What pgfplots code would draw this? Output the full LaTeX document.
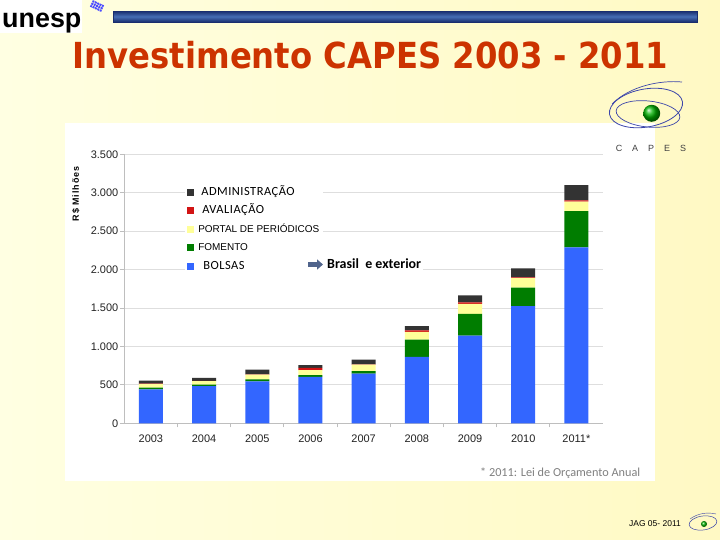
\documentclass[border=0pt]{standalone}
\usepackage{fontspec}
\setmainfont{Liberation Sans}
\newfontfamily\calibri{Carlito}
\newfontfamily\calibrisp{Carlito}[LetterSpace=4]
\newfontfamily\ylabfont{Liberation Sans}[LetterSpace=10]
\newfontfamily\titlefont{DejaVu Sans}[FakeStretch=0.9]
\usepackage{pgfplots}
\pgfplotsset{compat=1.18}
\usetikzlibrary{arrows.meta}

\definecolor{bolsas}{RGB}{51,102,255}
\definecolor{fomento}{RGB}{0,125,0}
\definecolor{portal}{RGB}{255,255,153}
\definecolor{avaliacao}{RGB}{210,20,20}
\definecolor{adm}{RGB}{51,51,51}
\definecolor{gridgray}{RGB}{222,222,222}
\definecolor{axisgray}{RGB}{190,190,190}
\definecolor{ticktext}{RGB}{35,35,35}
\definecolor{titlered}{RGB}{204,51,0}
\definecolor{bgL}{RGB}{255,255,226}
\definecolor{bgR}{RGB}{255,249,196}
\definecolor{navy}{RGB}{25,45,110}
\definecolor{barblue}{RGB}{70,110,180}
\definecolor{capesblue}{RGB}{60,70,170}
\definecolor{arrowc}{RGB}{80,100,140}

\pgfplotsset{lg/.style={legend image code/.code={\fill[##1,draw=none] (0bp,-3.5bp) rectangle (7bp,3.5bp);}}}

\begin{document}
\begin{tikzpicture}
\path[use as bounding box] (0,0) rectangle (720bp,-540bp);
\begin{scope}[x=1bp,y=-1bp]
  % slide background
  \shade[left color=bgL, right color=bgR] (0,0) rectangle (720,540);
  % unesp banner
  \fill[white] (0,0) rectangle (82,33);
  \node[anchor=base west, inner sep=0pt, font=\bfseries\fontsize{27}{27}\selectfont] at (2,27) {unesp};
  \begin{scope}[shift={(97,6)}, rotate=-25]
    \foreach \i in {-2,...,2} {\foreach \j in {-1,0,1} {\fill[blue!70] (\i*2.6-1,\j*2.6-1) rectangle ++(2,2);}}
  \end{scope}
  \shade[top color=navy, bottom color=navy, middle color=barblue, draw=navy, line width=1bp] (113,11) rectangle (697,22);
  % title
  \node[anchor=base, inner sep=0pt, text=titlered, font=\titlefont\bfseries\fontsize{36}{36}\selectfont] at (370.5,68) {Investimento CAPES 2003 - 2011};
  % chart panel
  \fill[white] (65,123) rectangle (655,481);
  % CAPES logo
  \draw[capesblue, line width=0.8bp, rotate around={10:(646,108)}] (646,108) ellipse (37 and 19);
  \draw[capesblue, line width=0.7bp, rotate around={-6:(648,114)}] (648,114) ellipse (32 and 13);
  \draw[capesblue, line width=0.7bp] (612,104) .. controls (630,86) and (660,80) .. (682,82);
  \shade[ball color=green!70!black] (651.7,113.3) circle (8.5);
  \foreach \l [count=\k from 0] in {C,A,P,E,S}
    \node[font=\fontsize{9}{9}\selectfont, text=black!75] at (619+\k*16,148) {\l};
  % y label
  \node[rotate=90, font=\ylabfont\bfseries\fontsize{9}{9}\selectfont] at (76,194) {R\$ Milhões};
  % footnote
  \node[anchor=west, inner sep=0pt, text=black!50, font=\calibri\fontsize{12.3}{13}\selectfont] at (480,473) {* 2011: Lei de Orçamento Anual};
  % footer
  \node[anchor=east, inner sep=0pt, font=\fontsize{8.5}{9}\selectfont] at (681,524) {JAG 05- 2011};
  \draw[capesblue, line width=0.5bp, rotate around={8:(703,523)}] (703,523) ellipse (14 and 7);
  \draw[capesblue, line width=0.4bp] (690,519) .. controls (698,513) and (708,512) .. (716,514);
  \shade[ball color=green!70!black] (704,524) circle (3);
\end{scope}

\begin{axis}[
    at={(124.3bp,-423.3bp)}, anchor=south west,
    scale only axis, width=478.7bp, height=269bp,
    ybar stacked, bar width=24bp,
    xmin=-0.5, xmax=8.5, ymin=0, ymax=3500,
    xtick={0,...,8},
    xticklabels={2003,2004,2005,2006,2007,2008,2009,2010,2011*},
    minor xtick={0.5,1.5,...,7.5},
    ytick={0,500,...,3500},
    axis lines*=left,
    axis line style={draw=axisgray, line width=1.2bp},
    ymajorgrids, grid style={draw=gridgray, line width=0.9bp},
    tick align=outside,
    major tick length=4bp, minor tick length=4bp,
    major x tick style={draw=none},
    minor x tick style={draw=axisgray, line width=0.8bp},
    ytick style={draw=axisgray, line width=0.8bp},
    tick label style={text=ticktext, font=\fontsize{11}{12}\selectfont},
    /pgf/number format/1000 sep={.},
    /pgf/number format/assume math mode=true,
    xticklabel style={yshift=-4bp},
    yticklabel style={xshift=1.5bp},
    reverse legend, legend cell align=left,
    legend style={at={(0.127,0.897)}, anchor=north west, draw=none, fill=white,
        inner xsep=2bp, inner ysep=1bp, row sep=0bp,
        nodes={inner xsep=2bp, inner ysep=3bp, text height=9bp, text depth=3.5bp},
        /tikz/every odd column/.style={column sep=2bp}},
]
\addplot[fill=bolsas, draw=none, lg] coordinates {
 (0,440) (1,485) (2,545) (3,605) (4,648) (5,865) (6,1140) (7,1525) (8,2290)};
\addlegendentry{\calibrisp\fontsize{12.5}{12}\selectfont\hspace{5bp}BOLSAS}
\addplot[fill=fomento, draw=none, lg] coordinates {
 (0,25) (1,18) (2,28) (3,22) (4,30) (5,225) (6,285) (7,240) (8,470)};
\addlegendentry{\fontsize{10}{10}\selectfont FOMENTO}
\addplot[fill=portal, draw=none, lg] coordinates {
 (0,45) (1,45) (2,60) (3,65) (4,85) (5,100) (6,130) (7,125) (8,125)};
\addlegendentry{\fontsize{10}{10}\selectfont PORTAL DE PERIÓDICOS}
\addplot[fill=avaliacao, draw=none, lg] coordinates {
 (0,5) (1,5) (2,5) (3,30) (4,5) (5,20) (6,20) (7,10) (8,15)};
\addlegendentry{\calibrisp\fontsize{12.5}{12}\selectfont\hspace{4bp}AVALIAÇÃO}
\addplot[fill=adm, draw=none, lg] coordinates {
 (0,40) (1,37) (2,60) (3,35) (4,60) (5,55) (6,90) (7,115) (8,200)};
\addlegendentry{\calibrisp\fontsize{12.5}{12}\selectfont\hspace{3bp}ADMINISTRAÇÃO}
\end{axis}

\begin{scope}[x=1bp,y=-1bp]
  \fill[white] (300,256) rectangle (423,276);
  \draw[arrowc, line width=4.5bp, -{Triangle[length=6bp,width=10bp]}] (308,264.5) -- (323,264.5);
  \node[anchor=west, inner sep=0pt, font=\calibri\bfseries\fontsize{14}{14}\selectfont] at (327,264) {Brasil\ \ e exterior};
\end{scope}
\end{tikzpicture}
\end{document}
